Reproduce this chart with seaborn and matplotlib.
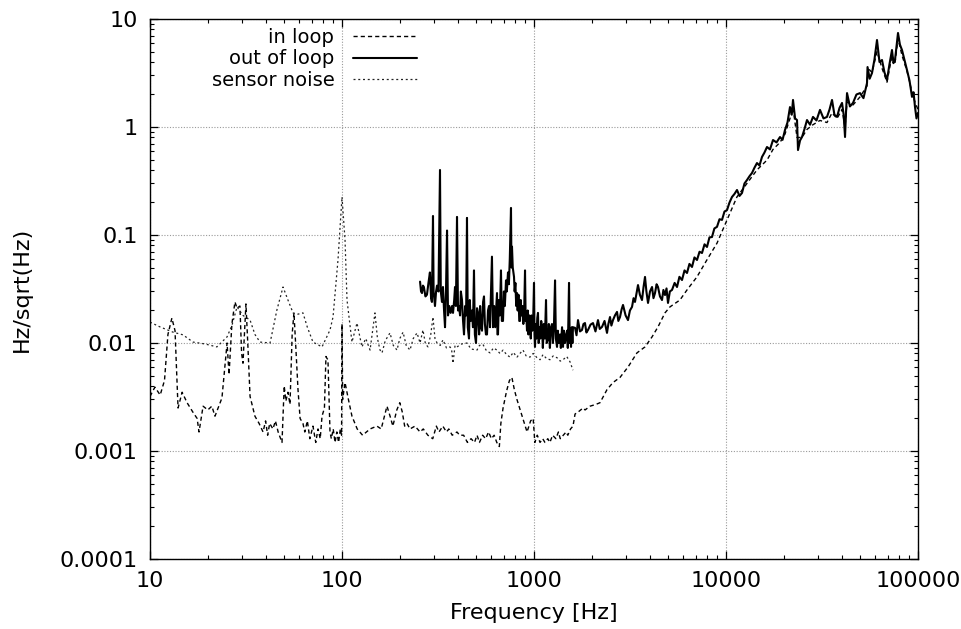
import numpy as np
import pandas as pd
import matplotlib
matplotlib.use("Agg")
import matplotlib.pyplot as plt
import seaborn as sns
from matplotlib.ticker import LogLocator, FuncFormatter, NullFormatter

# ---------------- data ----------------
in_loop_freq = [
    10, 10.6, 11.3, 11.9, 12.4, 13.0, 13.5, 14.0, 14.7, 15.6, 16.7, 17.6, 18.0, 18.9, 20.0,
    21.0, 21.8, 23.7, 25.2, 25.8, 26.7, 27.7, 28.4, 29.4, 30.0, 30.5, 31.6, 32.3, 33.2, 35.2,
    37.0, 38.8, 40.0, 41.0, 42.0, 43.7, 45.0, 46.5, 48.7, 50.0, 51.0, 52.3, 53.6, 55.0, 56.2,
    57.5, 59.0, 60.5, 62.6, 64.0, 66.0, 68.0, 70.6, 73.0, 75.0, 77.0, 78.7, 81.0, 82.5, 83.5,
    84.5, 86.6, 88.0, 90.0, 92.0, 94.0, 96.0, 98.0, 99.5, 100.0, 100.8, 103.7, 108, 112.7, 120,
    128, 140, 152, 160, 171.5, 178, 184, 193, 200, 206, 212, 218, 226, 240, 255, 265, 280, 297,
    310, 320, 335, 350, 360, 375, 397, 410, 430, 450, 470, 490, 505, 520, 540, 560, 580, 600,
    620, 640, 660, 672, 690, 720, 745, 767, 790, 815, 860, 900, 920, 960, 990, 1010, 1040,
    1075, 1110, 1140, 1180, 1210, 1250, 1300, 1340, 1370, 1420, 1470, 1500, 1550, 1596,
    1636, 1700, 1800, 1845, 1958, 2100, 2207, 2400, 2577, 2805, 3090, 3438, 3785, 4120, 4424,
    4810, 5108, 5754, 6265, 7063, 7962, 8976, 10120, 11400, 12850, 14490, 16370, 17570,
    19110, 20290, 21540, 22340, 23440, 24880, 26420, 28390, 30870, 33570, 35660, 37870,
    40210, 41680, 42690, 45860, 49890, 54250, 54900, 57600, 61160, 64940, 68950, 73210,
    75890, 78680, 82540, 87620, 93070, 96470, 100000,
]
in_loop_amp = [
    0.0032, 0.0039, 0.0033, 0.0045, 0.012, 0.017, 0.013, 0.0025, 0.0035, 0.0028, 0.0023, 0.0020,
    0.0015, 0.0026, 0.0024, 0.0026, 0.0021, 0.0031, 0.0100, 0.0051, 0.015, 0.024, 0.021, 0.022,
    0.0080, 0.0065, 0.023, 0.010, 0.0032, 0.0021, 0.0018, 0.0015, 0.0019, 0.0014, 0.0018,
    0.0016, 0.0019, 0.0015, 0.0012, 0.0040, 0.0029, 0.0035, 0.0027, 0.012, 0.019, 0.009,
    0.0037, 0.0020, 0.0018, 0.0015, 0.0019, 0.0013, 0.0017, 0.0012, 0.0016, 0.0013, 0.0021,
    0.0025, 0.0075, 0.0072, 0.0070, 0.0015, 0.0013, 0.0016, 0.0012, 0.0015, 0.0012, 0.0016,
    0.0014, 0.0150, 0.0030, 0.0043, 0.0030, 0.0021, 0.0016, 0.0014, 0.0016, 0.0017, 0.0016,
    0.0026, 0.0021, 0.0017, 0.0024, 0.0028, 0.0023, 0.0017, 0.0018, 0.0016, 0.0017, 0.0015,
    0.0016, 0.0014, 0.0013, 0.0017, 0.0015, 0.0017, 0.0015, 0.0016, 0.0014, 0.0015, 0.0014,
    0.0014, 0.0012, 0.0013, 0.0012, 0.0014, 0.0012, 0.0014, 0.0013, 0.0015, 0.0013, 0.0014,
    0.0012, 0.0011, 0.0018, 0.0025, 0.0036, 0.0045, 0.0048, 0.0037, 0.0030, 0.0022, 0.0017,
    0.0015, 0.0019, 0.0020, 0.0012, 0.0014, 0.0012, 0.0013, 0.0012, 0.0013, 0.0012, 0.0014,
    0.0013, 0.0015, 0.0013, 0.0014, 0.0015, 0.0014, 0.0016, 0.0017,
    0.0022, 0.0023, 0.0025, 0.0024, 0.0026, 0.0027, 0.0028, 0.0037, 0.0043, 0.0048, 0.0060,
    0.0081, 0.0092, 0.0114, 0.0141, 0.019, 0.0216, 0.025, 0.031, 0.041, 0.059, 0.084, 0.138,
    0.225, 0.30, 0.40, 0.495, 0.62, 0.72, 0.86, 1.2, 1.5, 0.80, 0.80, 0.95, 1.05, 1.15, 1.1,
    1.35, 1.2, 1.45, 1.0, 1.7, 1.6, 1.9, 2.4, 3.5, 3.2, 5.0, 3.5, 2.6, 4.6, 3.9, 6.6, 4.6,
    3.3, 2.1, 1.7, 1.45,
]

out_loop_freq = [
    255, 258, 261, 264, 267, 272, 277, 282, 287, 291, 294, 297.8, 300, 305, 309, 312.5, 318,
    323.9, 327, 331.7, 335.7, 340, 344, 348, 352.4, 356.6, 362, 368, 374, 378.6, 384, 387.8,
    392, 397.2, 402, 406.9, 412, 416, 421.7, 427, 432, 438, 443, 447.7, 452, 458.6, 463, 468,
    475, 481, 486.9, 492, 498.8, 505, 510.9, 518, 524, 530, 536, 543, 549, 555, 562, 569, 576,
    583, 590, 597, 604, 611.7, 620, 628, 635, 641.7, 645, 649.4, 656, 664, 673, 680, 689.5,
    697, 705, 714.8, 722, 732, 740, 748, 758.9, 763, 768, 775, 786.8, 793, 800, 808, 815.6,
    822, 830, 838, 845.5, 853, 860, 870, 880, 889, 897.9, 905, 912, 919.6, 927, 935, 945, 953,
    962, 970, 980, 990, 1000, 1006, 1012, 1020, 1030, 1040, 1049, 1058, 1068, 1078, 1090,
    1101, 1112, 1125, 1140, 1155, 1165, 1183, 1195, 1210, 1225, 1241, 1255, 1270, 1287, 1300,
    1318, 1330, 1345, 1366, 1380, 1400, 1416, 1430, 1450, 1470, 1486, 1500, 1510, 1522, 1535,
    1548, 1559, 1572, 1585, 1596,
    1636, 1665, 1695, 1736, 1778, 1810, 1843, 1875, 1911, 1970, 2029, 2090, 2154, 2200, 2261,
    2330, 2400, 2440, 2488, 2530, 2579, 2640, 2706, 2750, 2805, 2860, 2908, 3000, 3087, 3160,
    3240, 3300, 3357, 3420, 3481, 3560, 3652, 3720, 3786, 3850, 3925, 4020, 4119, 4190, 4268,
    4350, 4424, 4530, 4642, 4720, 4812, 4900, 4988, 5100, 5234, 5400, 5557, 5720, 5900, 6080,
    6265, 6450, 6652, 6850, 7063, 7280, 7499, 7730, 7962, 8200, 8454, 8700, 8976, 9250, 9532,
    9820, 10120, 10430, 10746, 11070, 11410, 11760, 12115, 12480, 12863, 13250, 13658, 14070,
    14502, 14940, 15398, 15860, 16350, 16950, 17572, 18330, 19110, 19700, 20290, 20900,
    21544, 22000, 22336, 22900, 23437, 23714, 24300, 24878, 25600, 26417, 27400, 28385,
    29600, 30874, 32200, 33574, 34600, 35660, 36700, 37866, 39000, 40212, 41000, 41682,
    42200, 42693, 44200, 45860, 47800, 49890, 52000, 54250, 54600, 56000, 57600, 59300,
    61160, 63000, 64940, 66900, 68950, 71000, 73210, 74500, 75890, 77200, 78680, 80500,
    82540, 85000, 87620, 90300, 93070, 94800, 96470, 98200, 100000,
]
out_loop_amp = [
    0.037, 0.030, 0.029, 0.034, 0.033, 0.027, 0.028, 0.036, 0.045, 0.026, 0.024, 0.15, 0.030,
    0.022, 0.030, 0.034, 0.030, 0.40, 0.030, 0.024, 0.033, 0.020, 0.014, 0.030, 0.11, 0.018,
    0.022, 0.019, 0.022, 0.019, 0.025, 0.033, 0.022, 0.147, 0.020, 0.022, 0.018, 0.030, 0.025,
    0.016, 0.012, 0.022, 0.018, 0.144, 0.014, 0.011, 0.025, 0.016, 0.020, 0.014, 0.047, 0.012,
    0.010, 0.021, 0.019, 0.012, 0.022, 0.014, 0.013, 0.024, 0.027, 0.015, 0.012, 0.012, 0.020,
    0.022, 0.014, 0.030, 0.063, 0.014, 0.022, 0.014, 0.020, 0.029, 0.012, 0.012, 0.025, 0.018,
    0.047, 0.016, 0.016, 0.030, 0.022, 0.038, 0.030, 0.045, 0.035, 0.060, 0.178, 0.050, 0.078,
    0.050, 0.041, 0.030, 0.036, 0.022, 0.029, 0.020, 0.028, 0.016, 0.016, 0.025, 0.018, 0.022,
    0.015, 0.020, 0.047, 0.016, 0.018, 0.013, 0.020, 0.012, 0.018, 0.016, 0.011, 0.018, 0.013,
    0.016, 0.036, 0.012, 0.0092, 0.015, 0.011, 0.017, 0.019, 0.010, 0.014, 0.011, 0.016, 0.014,
    0.009, 0.015, 0.011, 0.025, 0.010, 0.011, 0.015, 0.009, 0.014, 0.015, 0.010, 0.014, 0.038,
    0.011, 0.0092, 0.013, 0.010, 0.012, 0.009, 0.014, 0.0092, 0.013, 0.010, 0.012, 0.013,
    0.009, 0.016, 0.036, 0.010, 0.012, 0.0092, 0.014, 0.010, 0.014,
    0.0138, 0.0118, 0.0163, 0.0128, 0.0132, 0.0150, 0.0153, 0.0125, 0.0132, 0.0148, 0.0153,
    0.0128, 0.0163, 0.0135, 0.0141, 0.0160, 0.0124, 0.0150, 0.0174, 0.0145, 0.0163, 0.0180,
    0.0194, 0.0160, 0.0174, 0.0205, 0.0225, 0.0180, 0.0163, 0.0200, 0.0216, 0.0260, 0.0240,
    0.0290, 0.0344, 0.0280, 0.0250, 0.0330, 0.0409, 0.0300, 0.0235, 0.0300, 0.0330, 0.0260,
    0.0290, 0.0350, 0.0330, 0.0270, 0.0250, 0.0310, 0.0278, 0.0320, 0.0235, 0.0300, 0.0310,
    0.0360, 0.0330, 0.0410, 0.0383, 0.0470, 0.0445, 0.0540, 0.0506, 0.0620, 0.0587, 0.0700,
    0.0681, 0.0820, 0.0775, 0.0950, 0.0958, 0.1150, 0.119, 0.140, 0.138, 0.165, 0.170, 0.200,
    0.225, 0.240, 0.261, 0.230, 0.245, 0.300, 0.323, 0.350, 0.375, 0.420, 0.464, 0.440, 0.528,
    0.580, 0.653, 0.620, 0.758, 0.720, 0.808, 0.760, 0.938, 1.10, 1.53, 1.30, 1.78, 1.20, 1.16,
    0.612, 0.75, 0.808, 0.95, 1.16, 1.05, 1.24, 1.15, 1.44, 1.20, 1.24, 1.45, 1.78, 1.30, 1.24,
    1.50, 1.67, 1.30, 0.808, 1.40, 2.06, 1.55, 1.67, 2.00, 2.06, 1.85, 2.55, 3.59, 2.80, 3.16,
    4.20, 6.39, 4.00, 4.17, 3.20, 2.72, 3.80, 5.16, 3.90, 4.17, 5.50, 7.42, 5.80, 5.16, 4.20,
    3.37, 2.70, 1.90, 2.10, 1.53, 1.20, 1.35,
]

sensor_freq = [
    10, 11.27, 13.18, 14.85, 16.75, 19.33, 22.3, 25.2, 26.7, 28.4, 30.5, 33.2, 35.2, 37.4,
    42.2, 45.8, 49.3, 52.3, 55.6, 59, 62.6, 66, 70.6, 78.7, 86.6, 89.8, 95.3, 100, 103.7,
    106.2, 112.7, 119.7, 127, 133, 140, 148.5, 153, 157.8, 161.6, 168, 177.8, 185, 193.4, 200,
    208, 216, 226, 235, 246, 255, 264, 272, 280.5, 290, 297.6, 305, 312.6, 325, 335.7, 350,
    365, 372, 378.6, 388, 397, 420, 447.7, 470, 504.7, 520, 542, 565, 590, 615, 641, 665, 690,
    720, 750, 780, 815, 845, 876, 910, 953, 990, 1037, 1075, 1114, 1160, 1211, 1260, 1318,
    1370, 1417, 1480, 1540, 1596,
]
sensor_amp = [
    0.0156, 0.0141, 0.0126, 0.0119, 0.0102, 0.0098, 0.0092, 0.0114, 0.0145, 0.0216, 0.018,
    0.0163, 0.012, 0.0102, 0.0100, 0.0202, 0.033, 0.025, 0.019, 0.0185, 0.019, 0.014, 0.0102,
    0.0092, 0.0132, 0.0174, 0.0587, 0.225, 0.090, 0.025, 0.0102, 0.0153, 0.0092, 0.011,
    0.0086, 0.019, 0.011, 0.0086, 0.0081, 0.0105, 0.0124, 0.0095, 0.0086, 0.011, 0.0126,
    0.0095, 0.0086, 0.011, 0.0124, 0.0100, 0.0132, 0.0098, 0.0092, 0.012, 0.0174, 0.011,
    0.0100, 0.0095, 0.0107, 0.009, 0.0092, 0.0088, 0.0065, 0.0095, 0.0092, 0.0098, 0.0100,
    0.0088, 0.0086, 0.0095, 0.0097, 0.0085, 0.0081, 0.009, 0.0086, 0.0080, 0.0086, 0.0078,
    0.0074, 0.0082, 0.0074, 0.0080, 0.0086, 0.0076, 0.0074, 0.0080, 0.0073, 0.0070, 0.0078,
    0.0072, 0.0070, 0.0076, 0.0073, 0.0068, 0.0070, 0.0075, 0.0067, 0.0056,
]

series_labels = ["in loop", "out of loop", "sensor noise"]
x_ticks = [10, 100, 1000, 10000, 100000]
y_ticks = [0.0001, 0.001, 0.01, 0.1, 1, 10]
x_label = "Frequency [Hz]"
y_label = "Hz/sqrt(Hz)"

# ---------------- plotting ----------------
sns.set_theme(style="ticks")
plt.rcParams["font.family"] = ["DejaVu Sans"]
plt.rcParams["font.size"] = 16
for k in ["text.color", "axes.labelcolor", "xtick.color", "ytick.color", "axes.edgecolor"]:
    plt.rcParams[k] = "black"

fig = plt.figure(figsize=(9.61, 6.29), dpi=100)
ax = fig.add_axes([150 / 961, 1 - 559 / 629, 768 / 961, 540 / 629])

df_in = pd.DataFrame({"freq": in_loop_freq, "amp": in_loop_amp})
df_out = pd.DataFrame({"freq": out_loop_freq, "amp": out_loop_amp})
df_sn = pd.DataFrame({"freq": sensor_freq, "amp": sensor_amp})

sns.lineplot(data=df_in, x="freq", y="amp", ax=ax, estimator=None, sort=False,
             color="black", linewidth=1.0, legend=False)
l_in = ax.lines[-1]
l_in.set_dashes([3.0, 2.2])
sns.lineplot(data=df_out, x="freq", y="amp", ax=ax, estimator=None, sort=False,
             color="black", linewidth=1.5, legend=False)
l_out = ax.lines[-1]
sns.lineplot(data=df_sn, x="freq", y="amp", ax=ax, estimator=None, sort=False,
             color="#222222", linewidth=0.9, legend=False)
l_sn = ax.lines[-1]
l_sn.set_dashes([1.6, 2.2])

ax.set_xscale("log")
ax.set_yscale("log")
ax.set_xlim(x_ticks[0], x_ticks[-1])
ax.set_ylim(y_ticks[0], y_ticks[-1])
ax.set_xticks(x_ticks)
ax.set_yticks(y_ticks)
fmt = FuncFormatter(lambda v, p: f"{v:g}")
ax.xaxis.set_major_formatter(fmt)
ax.yaxis.set_major_formatter(fmt)
ax.xaxis.set_minor_locator(LogLocator(base=10, subs=np.arange(2, 10), numticks=100))
ax.yaxis.set_minor_locator(LogLocator(base=10, subs=np.arange(2, 10), numticks=100))
ax.xaxis.set_minor_formatter(NullFormatter())
ax.yaxis.set_minor_formatter(NullFormatter())

ax.tick_params(which="both", direction="in", top=True, right=True, color="black",
               labelcolor="black", labelsize=16)
ax.tick_params(which="major", length=6, width=0.9)
ax.tick_params(which="minor", length=3.2, width=0.8)
ax.tick_params(axis="y", which="major", pad=9)
ax.tick_params(axis="x", which="major", pad=8.5)

ax.grid(True, which="major", color="#9a9a9a", linestyle=(0, (1, 1.5)), linewidth=0.8)
ax.set_axisbelow(True)
for s in ax.spines.values():
    s.set_color("black")
    s.set_linewidth(1.0)

ax.set_xlabel(x_label, fontsize=16, labelpad=9)
ax.set_ylabel(y_label, fontsize=16, labelpad=20)

ax.legend(handles=[l_in, l_out, l_sn], labels=series_labels, loc="upper right",
          bbox_to_anchor=((417 - 150) / 768, (559 - 28) / 540), frameon=False,
          markerfirst=False, handlelength=3.3, handletextpad=0.95, labelspacing=0.12,
          borderpad=0, borderaxespad=0, fontsize=14)

fig.savefig("out.png", dpi=100)
